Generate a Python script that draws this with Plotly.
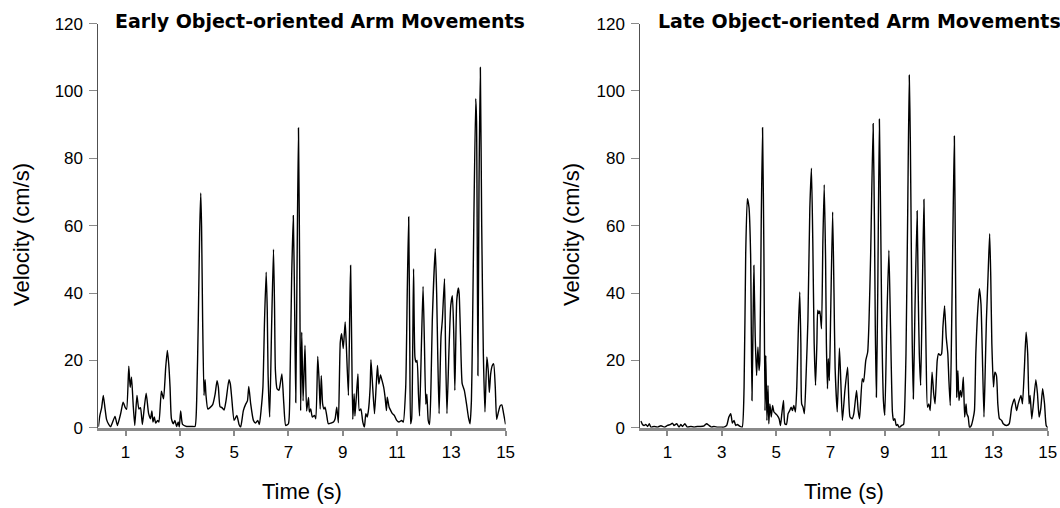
import plotly.graph_objects as go

# ---------------- data ----------------
t_early = [0.00, 0.05, 0.12, 0.18, 0.24, 0.30, 0.38, 0.45, 0.61, 0.70, 0.82, 0.91, 0.99, 1.04,
           1.12, 1.17, 1.22, 1.28, 1.34, 1.42, 1.49, 1.55, 1.62, 1.69, 1.76, 1.85, 1.92, 1.97,
           2.01, 2.06, 2.11, 2.18, 2.23, 2.32, 2.40, 2.48, 2.54, 2.59, 2.64, 2.69, 2.76, 2.82,
           2.88, 2.94, 2.98, 3.03, 3.10, 3.25, 3.44, 3.56, 3.62, 3.68, 3.73, 3.77, 3.80, 3.84,
           3.89, 3.93, 3.96, 4.03, 4.11, 4.21, 4.30, 4.37, 4.42, 4.48, 4.55, 4.63, 4.70, 4.81,
           4.86, 4.91, 5.00, 5.10, 5.18, 5.24, 5.34, 5.43, 5.49, 5.54, 5.61, 5.71, 5.79, 5.87,
           5.93, 5.99, 6.06, 6.12, 6.18, 6.22, 6.25, 6.31, 6.38, 6.45, 6.49, 6.52, 6.58, 6.65,
           6.68, 6.76, 6.83, 6.90, 7.00, 7.06, 7.12, 7.18, 7.23, 7.27, 7.32, 7.37, 7.42, 7.45,
           7.49, 7.54, 7.61, 7.67, 7.74, 7.77, 7.82, 7.88, 7.96, 8.01, 8.08, 8.13, 8.17, 8.21,
           8.26, 8.31, 8.35, 8.41, 8.47, 8.57, 8.66, 8.72, 8.78, 8.84, 8.91, 8.96, 9.02, 9.09,
           9.13, 9.21, 9.26, 9.29, 9.33, 9.37, 9.42, 9.45, 9.50, 9.56, 9.61, 9.67, 9.74, 9.80,
           9.85, 9.90, 9.94, 10.01, 10.04, 10.10, 10.17, 10.23, 10.28, 10.33, 10.39, 10.45,
           10.51, 10.56, 10.61, 10.64, 10.71, 10.77, 10.83, 10.90, 10.99, 11.07, 11.17, 11.23,
           11.32, 11.38, 11.43, 11.47, 11.50, 11.54, 11.58, 11.61, 11.66, 11.70, 11.74, 11.79,
           11.83, 11.90, 11.96, 12.01, 12.06, 12.10, 12.15, 12.20, 12.25, 12.30, 12.41, 12.46,
           12.50, 12.55, 12.62, 12.67, 12.75, 12.79, 12.84, 12.91, 12.98, 13.04, 13.09, 13.13,
           13.20, 13.26, 13.29, 13.34, 13.40, 13.48, 13.56, 13.63, 13.69, 13.74, 13.77, 13.83,
           13.90, 13.93, 13.98, 14.02, 14.07, 14.12, 14.18, 14.24, 14.31, 14.36, 14.40, 14.45,
           14.51, 14.56, 14.62, 14.67, 14.73, 14.80, 14.86, 14.92, 15.00]
v_early = [0.3, 3.5, 6.0, 9.6, 6.0, 2.5, 1.0, 0.3, 3.4, 0.7, 4.2, 7.6, 6.0, 5.5,
           18.3, 12.0, 15.0, 7.0, 0.7, 9.6, 5.6, 6.0, 1.0, 6.0, 10.3, 4.2, 2.7, 5.0,
           1.7, 3.2, 1.4, 2.2, 1.7, 10.9, 8.6, 18.0, 23.0, 19.0, 12.0, 2.7, 1.2, 2.2,
           0.4, 1.7, 0.2, 5.0, 1.0, 0.4, 0.4, 0.4, 8.0, 32.0, 58.0, 69.7, 60.0, 32.0,
           9.6, 14.3, 10.0, 5.6, 6.0, 6.9, 10.0, 14.0, 12.0, 6.3, 6.0, 5.3, 8.0, 14.3,
           13.0, 9.0, 2.2, 3.7, 1.0, 0.2, 5.1, 7.1, 8.0, 12.3, 7.1, 2.2, 1.4, 2.2,
           1.0, 5.0, 12.0, 32.0, 46.2, 35.0, 16.0, 3.2, 30.0, 53.0, 35.0, 17.0, 11.6, 11.1,
           12.1, 16.0, 7.1, 0.7, 1.2, 15.0, 45.0, 63.0, 35.0, 7.5, 50.0, 89.0, 40.0, 5.1,
           28.4, 8.0, 24.5, 5.0, 9.0, 4.7, 5.6, 3.2, 3.7, 2.7, 21.2, 14.0, 5.6, 15.5,
           7.1, 5.6, 6.1, 3.7, 1.2, 1.4, 1.7, 2.7, 6.1, 1.5, 25.4, 27.9, 23.5, 31.4,
           25.0, 9.6, 35.0, 48.2, 25.0, 2.5, 10.1, 3.5, 9.0, 16.0, 5.1, 5.6, 1.7, 0.2,
           4.2, 3.2, 4.7, 12.0, 20.2, 12.6, 4.2, 12.0, 18.5, 13.0, 15.7, 14.0,
           12.0, 9.1, 5.1, 9.1, 6.1, 5.1, 4.2, 3.7, 2.2, 1.7, 2.2, 1.7,
           12.0, 41.8, 62.6, 25.0, 1.2, 2.7, 25.0, 47.2, 21.0, 19.5, 20.0, 10.0,
           3.5, 25.0, 42.0, 25.0, 7.0, 10.0, 2.2, 1.0, 12.0, 31.9, 53.2, 40.0,
           22.0, 4.2, 27.0, 32.0, 44.3, 22.0, 4.2, 22.0, 36.3, 39.2, 28.0, 11.1,
           37.8, 41.5, 39.8, 27.0, 13.1, 11.1, 7.1, 3.2, 1.2, 8.0, 22.0, 61.6,
           97.7, 91.0, 15.5, 71.5, 107.0, 60.0, 22.0, 4.7, 21.0, 17.0, 10.5, 16.0,
           18.5, 19.0, 12.0, 2.5, 4.5, 6.5, 6.8, 4.5, 1.0]

t_late = [0.02, 0.08, 0.14, 0.20, 0.27, 0.33, 0.39, 0.51, 0.63, 0.76, 0.88, 1.00, 1.12, 1.18,
          1.24, 1.34, 1.43, 1.49, 1.55, 1.64, 1.73, 1.86, 1.98, 2.10, 2.22, 2.35, 2.44, 2.53,
          2.62, 2.71, 2.84, 2.96, 3.08, 3.18, 3.26, 3.33, 3.39, 3.45, 3.51, 3.57, 3.67, 3.75,
          3.82, 3.88, 3.94, 4.00, 4.06, 4.11, 4.15, 4.18, 4.23, 4.28, 4.33, 4.37, 4.40, 4.45,
          4.50, 4.55, 4.59, 4.62, 4.66, 4.70, 4.73, 4.77, 4.82, 4.87, 4.92, 4.98, 5.04, 5.11,
          5.16, 5.21, 5.27, 5.32, 5.38, 5.44, 5.50, 5.55, 5.60, 5.65, 5.71, 5.76, 5.82, 5.87,
          5.91, 5.94, 5.99, 6.04, 6.10, 6.17, 6.24, 6.30, 6.35, 6.40, 6.45, 6.50, 6.53, 6.57,
          6.61, 6.67, 6.72, 6.77, 6.82, 6.85, 6.89, 6.92, 6.96, 7.01, 7.08, 7.13, 7.17, 7.25,
          7.33, 7.38, 7.44, 7.53, 7.63, 7.72, 7.80, 7.86, 7.96, 8.02, 8.07, 8.17, 8.22, 8.30,
          8.37, 8.42, 8.48, 8.57, 8.62, 8.65, 8.69, 8.74, 8.80, 8.85, 8.89, 8.95, 9.00, 9.07,
          9.15, 9.21, 9.28, 9.32, 9.37, 9.42, 9.47, 9.53, 9.62, 9.69, 9.74, 9.78, 9.84, 9.90,
          9.94, 9.98, 10.01, 10.05, 10.11, 10.19, 10.23, 10.27, 10.32, 10.38, 10.44, 10.48,
          10.52, 10.57, 10.62, 10.67, 10.74, 10.80, 10.85, 10.93, 10.98, 11.04, 11.09, 11.14,
          11.20, 11.26, 11.32, 11.36, 11.41, 11.46, 11.51, 11.56, 11.60, 11.65, 11.69, 11.73,
          11.78, 11.83, 11.89, 11.94, 11.99, 12.02, 12.07, 12.12, 12.19, 12.25, 12.30, 12.35,
          12.40, 12.48, 12.54, 12.59, 12.65, 12.69, 12.74, 12.80, 12.86, 12.90, 12.94, 13.00,
          13.05, 13.11, 13.16, 13.22, 13.30, 13.36, 13.48, 13.58, 13.67, 13.77, 13.85, 13.91,
          14.01, 14.05, 14.07, 14.14, 14.20, 14.26, 14.31, 14.35, 14.41, 14.47, 14.56, 14.62,
          14.68, 14.74, 14.81, 14.88, 14.94, 15.00]
v_late = [2.0, 1.0, 0.7, 1.0, 0.4, 1.2, 0.2, 0.4, 0.2, 0.6, 0.2, 0.7, 1.0, 1.4,
          0.7, 1.2, 0.2, 1.0, 0.4, 1.2, 0.2, 0.4, 0.2, 0.4, 0.4, 0.6, 1.2, 0.7,
          0.2, 0.4, 0.2, 0.2, 0.2, 0.7, 3.2, 4.2, 1.4, 2.2, 0.7, 1.0, 0.4, 0.2,
          12.0, 51.7, 68.0, 65.5, 51.7, 8.1, 30.0, 48.2, 27.0, 15.5, 24.0, 17.0, 20.0, 60.0,
          89.1, 51.7, 5.1, 21.5, 2.2, 12.6, 1.2, 7.1, 3.2, 6.6, 4.7, 4.2, 3.7, 2.7,
          0.7, 4.2, 8.1, 1.2, 1.0, 4.2, 5.1, 6.1, 5.1, 6.6, 4.7, 12.0, 30.0, 40.3,
          25.0, 7.1, 6.1, 4.2, 15.0, 31.9, 65.0, 77.1, 55.0, 25.0, 12.6, 25.0, 34.9, 33.9,
          34.7, 29.4, 55.0, 72.2, 50.0, 25.0, 11.6, 20.5, 14.0, 35.0, 64.1, 40.0, 18.0, 4.7,
          23.7, 14.0, 2.2, 11.0, 18.0, 3.2, 2.7, 4.2, 11.1, 5.1, 2.7, 14.6, 13.6, 20.0,
          22.5, 31.9, 51.7, 90.3, 60.0, 30.0, 9.1, 40.0, 91.6, 60.0, 30.0, 8.0, 3.7, 30.0,
          52.7, 30.0, 4.7, 2.2, 2.7, 0.7, 1.0, 0.0, 0.7, 1.0, 8.0, 22.0, 61.6, 104.7,
          85.0, 50.0, 25.0, 8.6, 35.0, 64.4, 40.0, 22.0, 12.6, 40.0, 67.8, 45.0,
          22.0, 6.1, 7.1, 5.1, 16.5, 10.1, 7.1, 20.0, 22.0, 21.5, 22.0, 30.0,
          36.2, 27.0, 22.0, 14.0, 6.6, 30.0, 60.0, 86.6, 50.0, 9.1, 17.0, 8.1,
          11.1, 9.1, 15.0, 3.2, 7.1, 4.2, 3.2, 0.0, 0.8, 2.7, 5.1, 22.0,
          31.9, 41.3, 36.8, 22.0, 3.2, 15.0, 31.9, 45.0, 57.6, 45.0, 25.0, 12.1,
          16.5, 15.5, 7.1, 2.7, 2.2, 1.2, 0.7, 1.2, 6.1, 8.6, 5.1, 7.1,
          9.6, 8.0, 7.1, 18.0, 28.4, 22.0, 7.1, 9.6, 2.7, 7.1, 14.3, 10.1,
          3.2, 5.6, 11.6, 7.1, 0.7, 0.0]

titles = ["Early Object-oriented Arm Movements", "Late Object-oriented Arm Movements"]
x_ticks = [1, 3, 5, 7, 9, 11, 13, 15]
y_ticks = [0, 20, 40, 60, 80, 100, 120]
x_title = "Time (s)"
y_title = "Velocity (cm/s)"

# ---------------- figure ----------------
W, H = 1060, 508
fig = go.Figure()

line = dict(color="black", width=1.4, shape="spline", smoothing=0.5)
fig.add_trace(go.Scatter(x=t_early, y=v_early, mode="lines", line=line,
                         xaxis="x", yaxis="y", showlegend=False))
fig.add_trace(go.Scatter(x=t_late, y=v_late, mode="lines", line=line,
                         xaxis="x2", yaxis="y2", showlegend=False))

tick_font = dict(family="Liberation Sans, Arial, sans-serif", size=17, color="black")
ydom = [1 - 427.8 / H, 1 - 23.6 / H]
left_dom = [98.4 / W, 505.6 / W]
right_dom = [640.3 / W, 1047.8 / W]

def xaxis(dom, anchor):
    return dict(domain=dom, anchor=anchor, range=[0, 15], tickvals=x_ticks,
                showgrid=False, zeroline=False, showline=True, linecolor="#8a8a8a",
                linewidth=2.5, ticks="outside", ticklen=5, tickwidth=1.5, tickcolor="#8a8a8a",
                tickfont=tick_font, ticklabelstandoff=2, automargin=False, fixedrange=True)

def yaxis(anchor):
    return dict(domain=ydom, anchor=anchor, range=[0, 120], tickvals=y_ticks,
                showgrid=False, zeroline=False, showline=True, linecolor="#505050",
                linewidth=1, ticks="outside", ticklen=8, tickwidth=1, tickcolor="#8a8a8a",
                tickfont=tick_font, ticklabelstandoff=3, automargin=False, fixedrange=True)

ann = []
title_font = dict(family="DejaVu Sans, sans-serif", size=19, color="black", weight="bold")
axis_title_font = dict(family="Liberation Sans, Arial, sans-serif", size=22, color="black")
for cx, txt in [(320 / W, titles[0]), (859 / W, titles[1])]:
    ann.append(dict(text=txt, x=cx, y=1 - 20.5 / H, xref="paper", yref="paper",
                    xanchor="center", yanchor="middle", showarrow=False, font=title_font))
for cx in [(98.4 + 505.6) / 2 / W, (640.3 + 1047.8) / 2 / W]:
    ann.append(dict(text=x_title, x=cx, y=1 - 491 / H, xref="paper", yref="paper",
                    xanchor="center", yanchor="middle", showarrow=False, font=axis_title_font))
for cx in [21 / W, 571 / W]:
    ann.append(dict(text=y_title, x=cx, y=1 - 235 / H, xref="paper", yref="paper",
                    xanchor="center", yanchor="middle", textangle=-90, showarrow=False,
                    font=axis_title_font))

fig.update_layout(
    width=W, height=H,
    margin=dict(l=0, r=0, t=0, b=0),
    paper_bgcolor="white", plot_bgcolor="white",
    xaxis=xaxis(left_dom, "y"), yaxis=yaxis("x"),
    xaxis2=xaxis(right_dom, "y2"), yaxis2=yaxis("x2"),
    annotations=ann,
    showlegend=False,
)

fig.write_html("out.html", config={"displayModeBar": False},
               post_script="document.body.style.margin='0px';document.body.style.padding='0px';")
